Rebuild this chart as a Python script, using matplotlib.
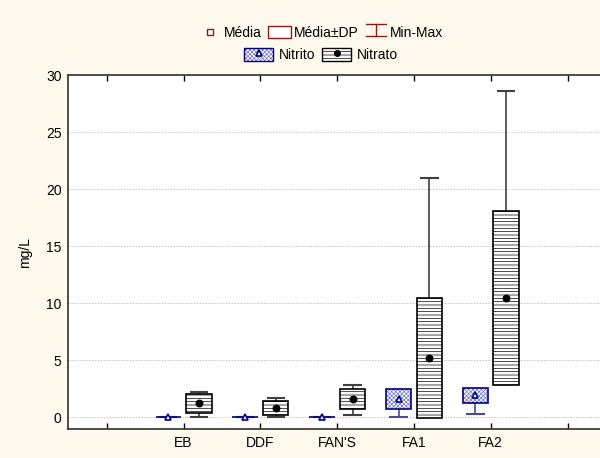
import matplotlib
matplotlib.use("Agg")
import matplotlib.pyplot as plt
import numpy as np
from matplotlib.patches import Rectangle
from matplotlib.lines import Line2D
from matplotlib.legend_handler import HandlerBase

plt.rcParams['font.family'] = ['Liberation Sans', 'DejaVu Sans']
plt.rcParams['hatch.linewidth'] = 0.5

# data (mg/L)
sites = ["EB", "DDF", "FAN'S", "FA1", "FA2"]
site_pos = [2, 3, 4, 5, 6]

nitrito_mean = [0.02, 0.02, 0.02, 1.61, 1.93]
nitrito_sd = [0.03, 0.03, 0.03, 0.88, 0.64]
nitrito_min = [0.00, 0.00, 0.00, 0.05, 0.29]
nitrito_max = [0.06, 0.06, 0.06, 2.40, 2.40]

nitrato_mean = [1.23, 0.79, 1.62, 5.21, 10.48]
nitrato_sd = [0.85, 0.63, 0.89, 5.24, 7.62]
nitrato_min = [0.00, 0.00, 0.23, 0.00, 4.00]
nitrato_max = [2.20, 1.65, 2.82, 21.03, 28.60]

BG = '#fffaed'
NAVY = '#000080'
HATCH_BLUE = '#7070c0'
DARKRED = '#8b1a1a'
FS = 10


class MinMaxHandler(HandlerBase):
    def create_artists(self, legend, orig_handle, xd, yd, width, height, fontsize, trans):
        cx = xd + width / 2
        w = width * 0.45
        lines = [
            Line2D([cx, cx], [yd, yd + height]),
            Line2D([cx - w, cx + w], [yd + height, yd + height]),
            Line2D([cx - w, cx + w], [yd, yd]),
        ]
        for ln in lines:
            ln.set_color(DARKRED)
            ln.set_linewidth(1.0)
            ln.set_transform(trans)
        return lines


fig = plt.figure(figsize=(6.0, 4.58), dpi=100, facecolor=BG)
ax = fig.add_axes([0.114, 0.0627, 0.896, 0.773])
ax.set_facecolor('white')

off = 0.2
bw = 0.33
cap = 0.12

series = [
    (-off, nitrito_mean, nitrito_sd, nitrito_min, nitrito_max, NAVY, HATCH_BLUE, 'xxxxxxxx', '#4a4aa0', '^', 'white'),
    (off, nitrato_mean, nitrato_sd, nitrato_min, nitrato_max, 'black', 'black', '-----', '#404040', 'o', 'black'),
]

for dx, mean, sd, vmin, vmax, ec, hc, hatch, wc, mk, mfc in series:
    x = np.array(site_pos) + dx
    mean = np.array(mean)
    sd = np.array(sd)
    ax.vlines(x, vmin, vmax, color=wc, lw=1.2, zorder=2)
    ax.hlines(vmin, x - cap, x + cap, color=wc, lw=1.5, zorder=2)
    ax.hlines(vmax, x - cap, x + cap, color=wc, lw=1.5, zorder=2)
    # hatch fill, then the outline on top
    ax.bar(x, 2 * sd, bottom=mean - sd, width=bw, facecolor='white',
           edgecolor=hc, hatch=hatch, lw=0, zorder=3)
    ax.bar(x, 2 * sd, bottom=mean - sd, width=bw, fill=False,
           edgecolor=ec, lw=1.2, zorder=3)
    ax.plot(x, mean, linestyle='none', marker=mk, ms=4.5 if mk == 'o' else 4,
            mfc=mfc, mec=ec, mew=1.2, zorder=4)

ax.set_xlim(0.5, 7.5)
ax.set_ylim(-1.05, 30)
ax.set_xticks(range(1, 8))
ax.set_xticklabels([''] + sites + [''])
ax.set_yticks(range(0, 31, 5))
ax.tick_params(axis='x', direction='in', top=True, length=4, width=1, labelsize=FS, pad=5)
ax.tick_params(axis='y', length=0, labelsize=FS, pad=5)
ax.yaxis.grid(True, color='#c4c4c4', linestyle=(0, (1.5, 1.5)), lw=0.7)
ax.set_axisbelow(True)
for s in ax.spines.values():
    s.set_color('#404040')
    s.set_linewidth(1.3)
ax.set_ylabel('mg/L', fontsize=FS, labelpad=10)

# legend row 1
h_mean = Line2D([], [], linestyle='none', marker='s', ms=4, mfc='white', mec=DARKRED, mew=1)
h_sd = Rectangle((0, 0), 1, 1, facecolor='white', edgecolor=DARKRED, lw=1)
h_mm = object()
fig.legend([h_mean, h_sd, h_mm], ['Média', 'Média±DP', 'Min-Max'],
           handler_map={h_mm: MinMaxHandler()},
           loc='center', bbox_to_anchor=(0.535, 0.928), ncol=3, frameon=False,
           fontsize=FS, handlelength=1.6, handleheight=0.9, handletextpad=0.2,
           columnspacing=0.5)

# legend row 2
h_ni = (Rectangle((0, 0), 1, 1, facecolor='white', edgecolor=HATCH_BLUE, hatch='xxxxxxxx', lw=0),
        Rectangle((0, 0), 1, 1, fill=False, edgecolor=NAVY, lw=1),
        Line2D([], [], linestyle='none', marker='^', ms=4, mfc='white', mec=NAVY, mew=1.2))
h_na = (Rectangle((0, 0), 1, 1, facecolor='white', edgecolor='black', hatch='-----', lw=1),
        Line2D([], [], linestyle='none', marker='o', ms=4, mfc='black', mec='black'))
fig.legend([h_ni, h_na], ['Nitrito', 'Nitrato'],
           loc='center', bbox_to_anchor=(0.535, 0.88), ncol=2, frameon=False,
           fontsize=FS, handlelength=2.1, handleheight=1.1,
           handletextpad=0.4, columnspacing=0.5)

fig.savefig('out.png', dpi=100, facecolor=BG)
